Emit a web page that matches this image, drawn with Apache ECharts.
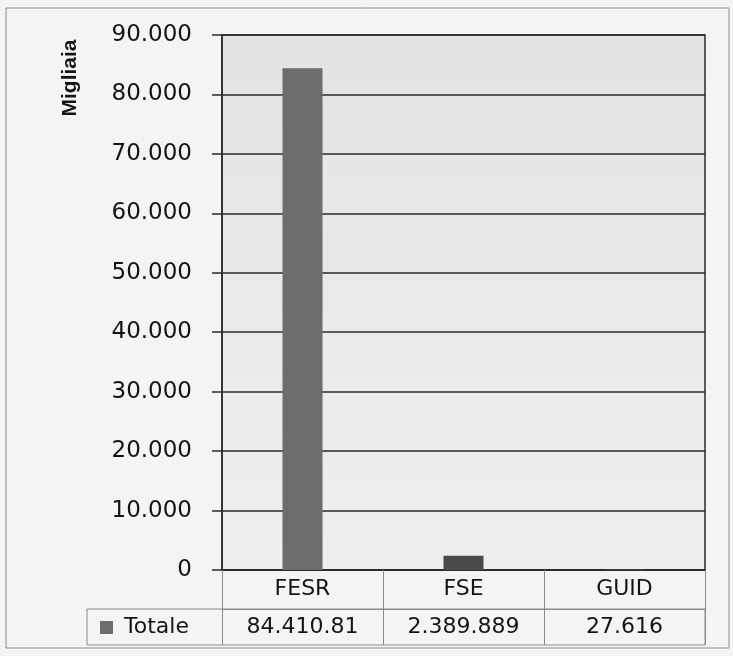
<!DOCTYPE html>
<html>
<head>
<meta charset="utf-8">
<script src="https://cdn.jsdelivr.net/npm/echarts@6/dist/echarts.min.js"></script>
<style>
  html, body { margin: 0; padding: 0; background: #f4f4f4; }
  #chart { width: 733px; height: 656px; }
</style>
</head>
<body>
<div id="chart"></div>
<script>
// ---- data ----
const categories = ['FESR', 'FSE', 'GUID'];
const totals = [84410.81, 2389.889, 27.616];          // migliaia
const tableLabels = ['84.410.81', '2.389.889', '27.616'];
const seriesName = 'Totale';
const yAxisTitle = 'Migliaia';

// ---- styles / layout ----
const barColors = ['#6d6d6d', '#4a4a4a', '#6d6d6d'];
const FONT = 'DejaVu Sans';
const TXT = '#141414';
const plot = { left: 222, right: 705, top: 35, bottom: 570 };
const catRowH = 39, valRowH = 36, legendCellLeft = 87;

function fmt(v) {
  return String(Math.round(v)).replace(/\B(?=(\d{3})+(?!\d))/g, '.');
}

const chart = echarts.init(document.getElementById('chart'));
const W = 733, H = 656;

chart.setOption({
  backgroundColor: '#f4f4f4',
  animation: false,
  grid: {
    left: plot.left, right: W - plot.right, top: plot.top, bottom: H - plot.bottom,
    show: true, borderColor: '#2a2a2a', borderWidth: 1.5,
    backgroundColor: {
      type: 'linear', x: 0, y: 0, x2: 0, y2: 1,
      colorStops: [{ offset: 0, color: '#e3e3e3' }, { offset: 1, color: '#efefef' }]
    }
  },
  xAxis: [
    {
      type: 'category', data: categories, gridIndex: 0, position: 'bottom',
      axisLine: { show: true, lineStyle: { color: '#2a2a2a', width: 1.5 } },
      axisTick: { show: true, length: catRowH, lineStyle: { color: '#8a8a8a', width: 1 } },
      axisLabel: { margin: 8, fontFamily: FONT, fontSize: 22, color: TXT }
    },
    {
      type: 'category', data: categories, gridIndex: 0, position: 'bottom', offset: catRowH,
      axisLine: { show: true, lineStyle: { color: '#8a8a8a', width: 1 } },
      axisTick: { show: true, length: valRowH, lineStyle: { color: '#8a8a8a', width: 1 } },
      axisLabel: {
        margin: 7, fontFamily: FONT, fontSize: 22, color: TXT,
        formatter: (v, i) => tableLabels[i]
      }
    }
  ],
  yAxis: {
    type: 'value', min: 0, max: 90000, interval: 10000,
    axisLine: { show: true, lineStyle: { color: '#2a2a2a', width: 1.5 } },
    axisTick: { show: true, length: 10, lineStyle: { color: '#2a2a2a', width: 1.5 } },
    splitLine: { show: true, lineStyle: { color: '#2a2a2a', width: 1.5 } },
    axisLabel: { margin: 30, fontFamily: FONT, fontSize: 23, color: TXT, formatter: fmt }
  },
  series: [{
    name: seriesName, type: 'bar', data: totals, barWidth: 40, xAxisIndex: 0,
    itemStyle: { color: p => barColors[p.dataIndex] }
  }],
  graphic: [
    { type: 'rect', shape: { x: 6, y: 8, width: 723, height: 640 }, style: { fill: 'none', stroke: '#8c8c8c', lineWidth: 1 }, z: 100 },
    { type: 'rect', shape: { x: legendCellLeft, y: plot.bottom + catRowH, width: plot.right - legendCellLeft, height: valRowH },
      style: { fill: 'none', stroke: '#8a8a8a', lineWidth: 1 }, z: 100 },
    { type: 'rect', shape: { x: 100, y: 621, width: 13, height: 13 }, style: { fill: barColors[0] }, z: 100 },
    { type: 'text', x: 124, y: plot.bottom + catRowH + valRowH / 2,
      style: { text: seriesName, fontFamily: FONT, fontSize: 22, fill: TXT, verticalAlign: 'middle', align: 'left' }, z: 100 },
    { type: 'text', x: 70, y: 78, rotation: Math.PI / 2,
      style: { text: yAxisTitle, fontFamily: 'Liberation Sans', fontWeight: 'bold', fontSize: 21, fill: TXT, align: 'center', verticalAlign: 'middle' }, z: 100 }
  ]
});
</script>
</body>
</html>
